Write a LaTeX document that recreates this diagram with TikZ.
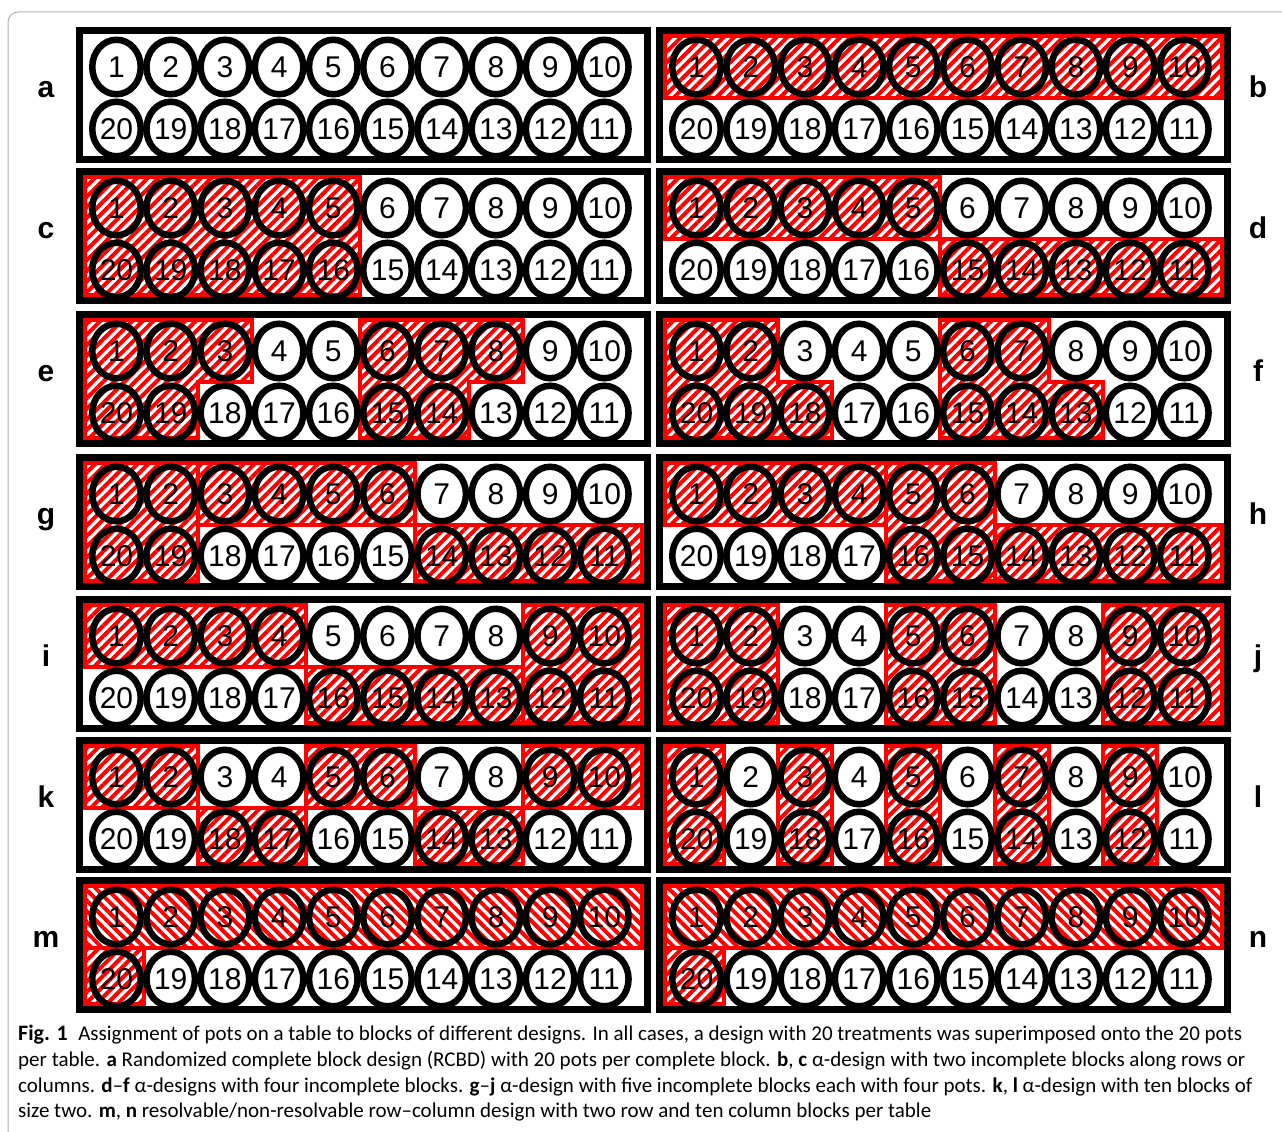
\documentclass[tikz,border=0pt]{standalone}
\usepackage{fontspec}
\setmainfont{Liberation Sans}
\newfontfamily\capfont{Carlito}
\usetikzlibrary{shapes.geometric,patterns.meta}
\tikzset{pot/.style={ellipse,draw,line width=6.5pt,minimum width=48.5pt,minimum height=54.5pt,inner sep=0pt,font=\fontsize{30}{30}\selectfont},
tab/.style={draw,line width=7pt,fill=white},
hatch/.style={draw=red,line width=4pt,pattern={Lines[angle=45,distance=7.5pt,line width=4pt]},pattern color=red},
hatchb/.style={hatch,pattern={Lines[angle=-45,distance=7.5pt,line width=4pt]}},
lbl/.style={anchor=base,font=\fontsize{30}{30}\selectfont\bfseries}}
% one table: name, x, y of its top left corner, blocks
\newcommand\tab[4]{\begin{scope}[shift={(#2,#3)}]
\draw[tab](3.5,3.5)rectangle(571.5,132.5);
\coordinate(v0)at(9,0);\coordinate(v10)at(566,0);
\foreach\i in{1,...,9}\coordinate(v\i)at({67.6+54.2*(\i-1)},0);
\coordinate(yt)at(0,9);\coordinate(ym)at(0,71);\coordinate(yb)at(0,127);
#4
\foreach\i in{1,...,10}\node[pot](#1\i)at({40.5+54.2*(\i-1)},40){\i};
\foreach\i[evaluate=\i as\n using int(21-\i)]in{1,...,10}\node[pot](#1\n)at({40.5+54.2*(\i-1)},102){\n};
\end{scope}}
% blocks: top row, bottom row, both rows, L shape
\newcommand\tp[3][hatch]{\draw[#1](v#2|-yt)rectangle(v#3|-ym);}
\newcommand\bt[3][hatch]{\draw[#1](v#2|-ym)rectangle(v#3|-yb);}
\newcommand\both[3][hatch]{\draw[#1](v#2|-yt)rectangle(v#3|-yb);}
\newcommand\el[3]{\draw[hatch](v#1|-yt)--(v#2|-yt)--(v#2|-ym)--(v#3|-ym)--(v#3|-yb)--(v#1|-yb)--cycle;}
\begin{document}
\begin{tikzpicture}[x=1pt,y=-1pt]
\useasboundingbox(0,0)rectangle(1282,1132);
\draw[gray!60,line width=1pt,rounded corners=10pt](8,1140)--(8,12)--(1290,12);
\tab{a}{76}{27}{}
\tab{b}{656}{27}{\tp{0}{10}}
\tab{c}{76}{168}{\both{0}{5}}
\tab{d}{656}{168}{\tp{0}{5}\bt{5}{10}}
\tab{e}{76}{311}{\el{0}{3}{2}\el{5}{8}{7}}
\tab{f}{656}{311}{\el{0}{2}{3}\el{5}{7}{8}}
\tab{g}{76}{454}{\both{0}{2}\tp{2}{6}\bt{6}{10}}
\tab{h}{656}{454}{\tp{0}{4}\both{4}{6}\bt{6}{10}}
\tab{i}{76}{596}{\tp{0}{4}\bt{4}{8}\both{8}{10}}
\tab{j}{656}{596}{\both{0}{2}\both{4}{6}\both{8}{10}}
\tab{k}{76}{737}{\tp{0}{2}\bt{2}{4}\tp{4}{6}\bt{6}{8}\tp{8}{10}}
\tab{l}{656}{737}{\both{0}{1}\both{2}{3}\both{4}{5}\both{6}{7}\both{8}{9}}
\tab{m}{76}{877}{\tp[hatchb]{0}{10}\bt{0}{1}}
\tab{n}{656}{877}{\tp[hatchb]{0}{10}\bt{0}{1}}
\foreach\t/\y in{a/27,c/168,e/311,g/454,i/596,k/737,m/877}\node[lbl](l\t)at(46,\y+70){\t};
\foreach\t/\y in{b/27,d/168,f/311,h/454,j/596,l/737,n/877}\node[lbl](l\t)at(1258,\y+70){\t};
\node[anchor=north west,align=left,inner sep=0pt,font=\capfont\fontsize{21}{25.7}\selectfont](cap)at(18,1025){{\fontsize{22}{25.7}\selectfont\textbf{Fig. 1}}\enspace Assignment of pots on a table to blocks of different designs. In all cases, a design with 20 treatments was superimposed onto the 20 pots\\
per table. \textbf{a} Randomized complete block design (RCBD) with 20 pots per complete block. \textbf{b}, \textbf{c} α-design with two incomplete blocks along rows or\\
columns. \textbf{d}–\textbf{f} α-designs with four incomplete blocks. \textbf{g}–\textbf{j} α-design with five incomplete blocks each with four pots. \textbf{k}, \textbf{l} α-design with ten blocks of\\
size two. \textbf{m}, \textbf{n} resolvable/non-resolvable row–column design with two row and ten column blocks per table};
\end{tikzpicture}
\end{document}
